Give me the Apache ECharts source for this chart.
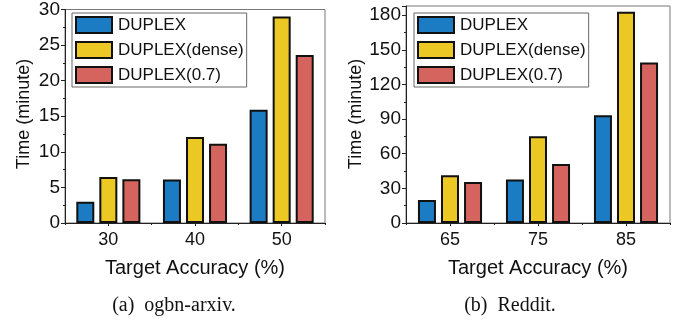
<!DOCTYPE html>
<html>
<head>
<meta charset="utf-8">
<script src="https://cdn.jsdelivr.net/npm/echarts@6/dist/echarts.min.js"></script>
<style>
html,body{margin:0;padding:0;background:#fff;}
#chart{width:685px;height:325px;}
</style>
</head>
<body>
<div id="chart"></div>
<script>
// ---- data ----
var seriesNames = ['DUPLEX', 'DUPLEX(dense)', 'DUPLEX(0.7)'];
var arxivCategories = ['30', '40', '50'];
var arxivDuplex = [3.0, 6.1, 15.9];
var arxivDense = [6.45, 12.1, 29.0];
var arxivSparse = [6.15, 11.15, 23.6];
var redditCategories = ['65', '75', '85'];
var redditDuplex = [20, 37.6, 93.4];
var redditDense = [41.4, 75.2, 183];
var redditSparse = [35.6, 51.1, 139.1];
var xTitle = 'Target Accuracy (%)';
var yTitle = 'Time (minute)';
var captions = ['(a)  ogbn-arxiv.', '(b)  Reddit.'];

// ---- styles ----
var colors = ['#1b7cc3', '#ebc823', '#d5645e'];
var SANS = 'Liberation Sans';
var grids = [
  {left: 65, right: 360, top: 6, bottom: 102},
  {left: 406, right: 15, top: 6, bottom: 102}
];

function makeX(idx, cats) {
  return [
    {
      type: 'category', gridIndex: idx, data: cats,
      axisLine: {show: true, lineStyle: {color: '#222', width: 1}},
      axisTick: {show: true, alignWithLabel: true, length: 3, lineStyle: {color: '#222'}},
      axisLabel: {color: '#111', fontSize: 18, fontFamily: SANS, margin: 8},
      splitLine: {show: false}
    },
    {
      type: 'category', gridIndex: idx, data: cats, position: 'bottom',
      axisLine: {show: false},
      axisTick: {show: true, length: 2, lineStyle: {color: '#222'}},
      axisLabel: {show: false},
      splitLine: {show: false}
    }
  ];
}
function makeY(idx, max, interval) {
  return {
    type: 'value', gridIndex: idx, min: 0, max: max, interval: interval,
    axisLine: {show: true, lineStyle: {color: '#222', width: 1}},
    axisTick: {show: true, length: 4, lineStyle: {color: '#222'}},
    minorTick: {show: true, splitNumber: 2, length: 2, lineStyle: {color: '#222'}},
    axisLabel: {color: '#111', fontSize: 19, fontFamily: SANS, margin: 5},
    splitLine: {show: false}
  };
}
function makeBar(name, data, xi, yi, ci) {
  return {
    name: name, type: 'bar', data: data, xAxisIndex: xi, yAxisIndex: yi,
    barWidth: 18, barGap: '28%',
    itemStyle: {color: colors[ci], borderColor: '#111', borderWidth: 2},
    emphasis: {disabled: true}, animation: false
  };
}
function makeLegend(left) {
  return {
    data: seriesNames, orient: 'vertical', left: left, top: 13,
    itemWidth: 36, itemHeight: 16, itemGap: 7,
    padding: [3, 3, 3, 3], borderColor: '#666', borderWidth: 1,
    textStyle: {fontSize: 17, fontFamily: SANS, color: '#111', padding: [0, 0, 0, 1]},
    icon: 'rect', selectedMode: false
  };
}

var option = {
  backgroundColor: '#fff',
  animation: false,
  grid: grids.map(function (g) {
    return Object.assign({show: true, borderColor: '#777', borderWidth: 1, containLabel: false}, g);
  }),
  xAxis: makeX(0, arxivCategories).concat(makeX(1, redditCategories)),
  yAxis: [makeY(0, 30, 5), makeY(1, 188, 30)],
  legend: [makeLegend(72), makeLegend(414)],
  series: [
    makeBar(seriesNames[0], arxivDuplex, 0, 0, 0),
    makeBar(seriesNames[1], arxivDense, 0, 0, 1),
    makeBar(seriesNames[2], arxivSparse, 0, 0, 2),
    makeBar(seriesNames[0], redditDuplex, 2, 1, 0),
    makeBar(seriesNames[1], redditDense, 2, 1, 1),
    makeBar(seriesNames[2], redditSparse, 2, 1, 2)
  ],
  graphic: [
    {type: 'text', x: 195, y: 268, style: {text: xTitle, font: '20px "Liberation Sans"', fill: '#111', align: 'center', verticalAlign: 'middle'}},
    {type: 'text', x: 538, y: 268, style: {text: xTitle, font: '20px "Liberation Sans"', fill: '#111', align: 'center', verticalAlign: 'middle'}},
    {type: 'text', x: 24, y: 114, rotation: Math.PI / 2, style: {text: yTitle, font: '18px "Liberation Sans"', fill: '#111', align: 'center', verticalAlign: 'middle'}},
    {type: 'text', x: 356, y: 114, rotation: Math.PI / 2, style: {text: yTitle, font: '18px "Liberation Sans"', fill: '#111', align: 'center', verticalAlign: 'middle'}},
    {type: 'text', x: 174, y: 306, style: {text: captions[0], font: '20px "Liberation Serif"', fill: '#111', align: 'center', verticalAlign: 'middle'}},
    {type: 'text', x: 510, y: 306, style: {text: captions[1], font: '20px "Liberation Serif"', fill: '#111', align: 'center', verticalAlign: 'middle'}}
  ]
};
var chart = echarts.init(document.getElementById('chart'), null, {renderer: 'canvas'});
chart.setOption(option);
</script>
</body>
</html>
